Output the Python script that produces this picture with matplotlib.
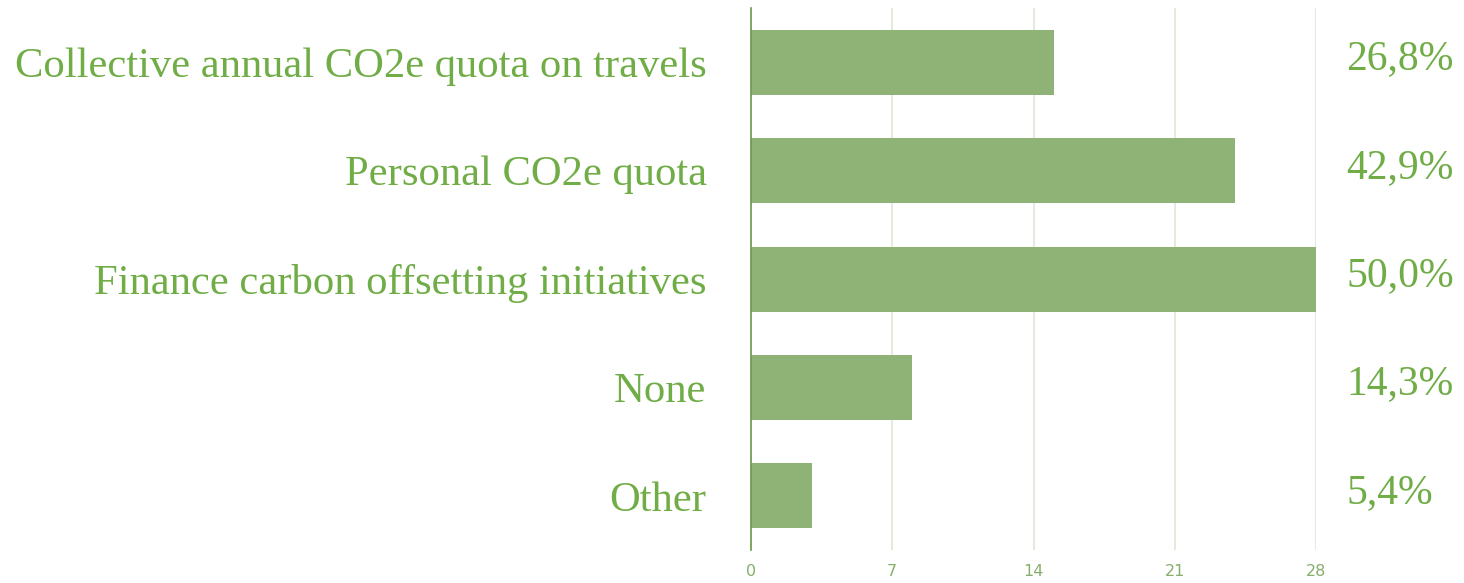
import matplotlib
matplotlib.use("Agg")
import matplotlib.pyplot as plt
import matplotlib.transforms as mtransforms

# Données
categories = ["Collective annual CO2e quota on travels",
              "Personal CO2e quota",
              "Finance carbon offsetting initiatives",
              "None",
              "Other"]
counts = [15, 24, 28, 8, 3]
pourcentages = ["26,8%", "42,9%", "50,0%", "14,3%", "5,4%"]
xticks = [0, 7, 14, 21, 28]

vert_texte = "#70AD47"
vert_barre = "#8FB377"

fig = plt.figure(figsize=(14.64, 5.83), dpi=100)
ax = fig.add_axes([0.513, 0.0566, 0.386, 0.9296])

y = list(range(len(categories)))
ax.barh(y, counts, height=0.6, color=vert_barre, zorder=2)

ax.set_xlim(0, 28)
ax.set_ylim(4.5, -0.5)
ax.set_xticks(xticks)
ax.set_xticklabels([str(t) for t in xticks],
                   family=["Liberation Sans Narrow", "DejaVu Sans"],
                   fontsize=11.5, color="#86AE6C")
ax.set_yticks(y)
ax.set_yticklabels(categories, family="Liberation Serif", fontsize=30.7,
                   color=vert_texte)
ax.tick_params(axis="y", length=0, pad=32)
ax.tick_params(axis="x", length=0, pad=10)
ax.grid(axis="x", color="#E3EBDD", linewidth=1.5, zorder=0)

for s in ["top", "right", "bottom"]:
    ax.spines[s].set_visible(False)
ax.spines["left"].set_color("#6A9A4A")
ax.spines["left"].set_linewidth(1.2)
ax.spines["left"].set_zorder(3)

# Pourcentages à droite (x en coordonnées figure, y en données)
trans = mtransforms.blended_transform_factory(fig.transFigure, ax.transData)
for i, p in enumerate(pourcentages):
    ax.text(1346 / 1464, i - 0.03, p, transform=trans,
            fontsize=30, family="Liberation Serif", color=vert_texte,
            ha="left", va="center")

fig.savefig("out.png", dpi=100)
